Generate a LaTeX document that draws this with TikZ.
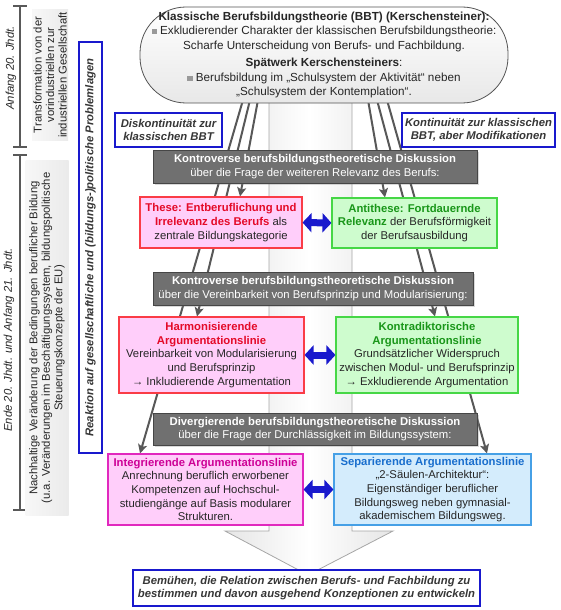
\documentclass[tikz,border=0pt]{standalone}
\usepackage{fontspec}
\setmainfont{Liberation Sans}
\usetikzlibrary{arrows.meta,shadows,calc}
\pgfdeclarelayer{bg}
\pgfsetlayers{bg,main}
\definecolor{pinkfill}{RGB}{255,206,250}
\definecolor{redtxt}{RGB}{228,10,40}
\definecolor{redborder}{RGB}{250,60,70}
\definecolor{greenfill}{RGB}{206,252,206}
\definecolor{greenborder}{RGB}{70,215,70}
\definecolor{greentxt}{RGB}{25,150,25}
\definecolor{magborder}{RGB}{225,40,190}
\definecolor{magtxt}{RGB}{205,0,150}
\definecolor{bluefill}{RGB}{212,236,252}
\definecolor{blueborder}{RGB}{70,160,230}
\definecolor{bluetxt}{RGB}{25,110,205}
\definecolor{navy}{RGB}{25,25,205}
\definecolor{discgray}{RGB}{112,112,112}
\definecolor{linegray}{RGB}{88,88,88}
\definecolor{darktxt}{RGB}{55,55,55}
\newcommand{\mysq}{\textcolor{gray!80}{\rule[0.5pt]{5.2pt}{5.2pt}}}
\begin{document}
\begin{tikzpicture}[x=1pt,y=-1pt,
  every node/.style={text=black!85},
  topbox/.style={draw=gray!65!black, line width=0.8pt, rounded corners=46pt, top color=white, bottom color=gray!18, align=center, inner sep=2pt},
  discbox/.style={fill=discgray, draw=gray!55!black, line width=0.6pt, text=white, align=center, inner sep=1pt, drop shadow={shadow xshift=1.5pt, shadow yshift=-1.5pt, opacity=0.3}},
  notebox/.style={draw=navy, line width=1.6pt, fill=white, align=center, text=darktxt, inner sep=1pt, font=\bfseries\itshape},
  pinkbox/.style={draw=redborder, line width=1.1pt, fill=pinkfill, align=center, inner sep=1pt, font=\fontsize{11.3}{13.6}\selectfont},
  greenbox/.style={draw=greenborder, line width=1.1pt, fill=greenfill, align=center, inner sep=1pt, font=\fontsize{11.3}{13.6}\selectfont},
  magbox/.style={draw=magborder, line width=1.1pt, fill=pinkfill, align=center, inner sep=1pt, font=\fontsize{11.3}{13.6}\selectfont},
  bluebox/.style={draw=blueborder, line width=1.1pt, fill=bluefill, align=center, inner sep=1pt, font=\fontsize{11.3}{13.6}\selectfont},
  panel/.style={left color=gray!6, right color=gray!16, draw=none, align=center, inner sep=1pt, rotate=90, font=\fontsize{11.3}{12.5}\selectfont},
  tl/.style={draw=gray!70!black, line width=1.2pt},
  flow/.style={draw=linegray, line width=2pt, -{Stealth[length=9pt,width=9pt,inset=2pt]}},
  dblarrow/.style={draw=navy, line width=7pt, {Triangle[length=9pt,width=19pt]}-{Triangle[length=9pt,width=19pt]}},
  bigarrow/.style={draw=gray!70, line width=0.8pt, left color=gray!20, right color=gray!20, middle color=white}
]
\fontsize{11.3}{13.2}\selectfont
\useasboundingbox (0,0) rectangle (560,610);

% ---------- time line on the left
\draw[tl] (20,6) -- (20,147);
\draw[tl] (13,6) -- (27,6);
\draw[tl] (13,147) -- (27,147);
\draw[tl] (20,155) -- (20,510);
\draw[tl] (13,155) -- (27,155);
\draw[tl] (13,510) -- (27,510);
\node[rotate=90, font=\itshape, inner sep=0pt] (anf) at (11,68) {Anfang 20. Jhdt.};
\node[rotate=90, font=\itshape, inner sep=0pt] (ende) at (9,340) {Ende 20. Jhdt. und Anfang 21. Jhdt.};

\node[panel, minimum width=130pt, minimum height=36pt] (p1) at (50,75)
  {Transformation von der\\vorindustriellen zur\\industriellen Gesellschaft};
\node[panel, minimum width=355pt, minimum height=43pt] (p2) at (47,338)
  {Nachhaltige Veränderung der Bedingungen beruflicher Bildung\\(u.a. Veränderungen im Beschäftigungssystem, bildungspolitische\\Steuerungskonzepte der EU)};

\node[notebox, rotate=90, minimum width=411pt, minimum height=23pt] (reak) at (90.5,247.5)
  {Reaktion auf gesellschaftliche und (bildungs-)politische Problemlagen};

% ---------- top box
\node[topbox, minimum width=368pt, minimum height=96pt, font=\fontsize{11.7}{14.3}\selectfont] (top) at (324,55)
  {\textbf{Klassische Berufsbildungstheorie (BBT) (Kerschensteiner):}\\
   \mysq\ Exkludierender Charakter der klassischen Berufsbildungstheorie:\\
   Scharfe Unterscheidung von Berufs- und Fachbildung.\\[3.5pt]
   \textbf{Spätwerk Kerschensteiners}:\\
   \mysq\ Berufsbildung im „Schulsystem der Aktivität“ neben\\
   „Schulsystem der Kontemplation“.};

\node[notebox, minimum width=107pt, minimum height=34pt] (disk) at (168.5,130)
  {Diskontinuität zur\\klassischen BBT};
\node[notebox, minimum width=153pt, minimum height=34pt] (kont) at (478.5,130)
  {Kontinuität zur klassischen\\BBT, aber Modifikationen};

% ---------- discussion boxes
\node[discbox, minimum width=324pt, minimum height=33pt] (d1) at (315,166.5)
  {\textbf{Kontroverse berufsbildungstheoretische Diskussion}\\über die Frage der weiteren Relevanz des Berufs:};
\node[discbox, minimum width=320pt, minimum height=33pt] (d2) at (313,288.5)
  {\textbf{Kontroverse berufsbildungstheoretische Diskussion}\\über die Vereinbarkeit von Berufsprinzip und Modularisierung:};
\node[discbox, minimum width=324pt, minimum height=32pt] (d3) at (315,429)
  {\textbf{Divergierende berufsbildungstheoretische Diskussion}\\über die Frage der Durchlässigkeit im Bildungssystem:};

% ---------- argument boxes
\node[pinkbox, minimum width=162pt, minimum height=51pt] (these) at (221,222.5)
  {\textcolor{redtxt}{\textbf{These: Entberuflichung und}}\\\textcolor{redtxt}{\textbf{Irrelevanz des Berufs}} als\\zentrale Bildungskategorie};
\node[greenbox, minimum width=165pt, minimum height=50pt] (anti) at (414.5,223)
  {\textcolor{greentxt}{\textbf{Antithese: Fortdauernde}}\\\textcolor{greentxt}{\textbf{Relevanz}} der Berufsförmigkeit\\der Berufsausbildung};

\node[pinkbox, minimum width=185pt, minimum height=76pt] (harm) at (211.5,355)
  {\textcolor{redtxt}{\textbf{Harmonisierende}}\\\textcolor{redtxt}{\textbf{Argumentationslinie}}\\Vereinbarkeit von Modularisierung\\und Berufsprinzip\\→ Inkludierende Argumentation};
\node[greenbox, minimum width=182pt, minimum height=76pt] (kontra) at (427,355)
  {\textcolor{greentxt}{\textbf{Kontradiktorische}}\\\textcolor{greentxt}{\textbf{Argumentationslinie}}\\Grundsätzlicher Widerspruch\\zwischen Modul- und Berufsprinzip\\→ Exkludierende Argumentation};

\node[magbox, minimum width=195pt, minimum height=71pt] (integ) at (205.5,489.5)
  {\textcolor{magtxt}{\textbf{Integrierende Argumentationslinie}}\\Anrechnung beruflich erworbener\\Kompetenzen auf Hochschul-\\studiengänge auf Basis modularer\\Strukturen.};
\node[bluebox, minimum width=197pt, minimum height=71pt] (separ) at (432.5,489.5)
  {\textcolor{bluetxt}{\textbf{Separierende Argumentationslinie}}\\„2-Säulen-Architektur“:\\Eigenständiger beruflicher\\Bildungsweg neben gymnasial-\\akademischem Bildungsweg.};

% ---------- bottom box
\node[notebox, line width=1.8pt, minimum width=347pt, minimum height=36pt] (bottom) at (306.5,588)
  {Bemühen, die Relation zwischen Berufs- und Fachbildung zu\\bestimmen und davon ausgehend Konzeptionen zu entwickeln};

% ---------- double arrows
\draw[dblarrow] (these.east) -- (anti.west);
\draw[dblarrow] (harm.east) -- (kontra.west);
\draw[dblarrow] (integ.east) -- (separ.west);

% ---------- background: big arrow and flow lines
\begin{pgfonlayer}{bg}
\path[bigarrow] (269,100) -- (269,531) -- (225,531) -- (308,575) -- (393,531) -- (352,531) -- (352,100) -- cycle;
\coordinate (l1s) at (258,100);
\coordinate (l2s) at (250,100);
\coordinate (l3s) at (243,100);
\coordinate (r1s) at (368,100);
\coordinate (r2s) at (377,100);
\coordinate (r3s) at (387,100);
\coordinate (l1e) at ($(these.north)+(19,0)$);
\coordinate (l2e) at ($(harm.north)+(-14.5,0)$);
\coordinate (l3e) at ($(integ.north)+(-65.5,0)$);
\coordinate (r1e) at ($(anti.north)+(-29.5,0)$);
\coordinate (r2e) at ($(kontra.north)+(8,0)$);
\coordinate (r3e) at ($(separ.north)+(54.5,0)$);
\foreach \a in {l1,l2,l3,r1,r2,r3}{
  \draw[white, line width=3.6pt, shorten >=3pt] (\a s) -- (\a e);
  \draw[flow] (\a s) -- (\a e);
}
\end{pgfonlayer}
\end{tikzpicture}
\end{document}
